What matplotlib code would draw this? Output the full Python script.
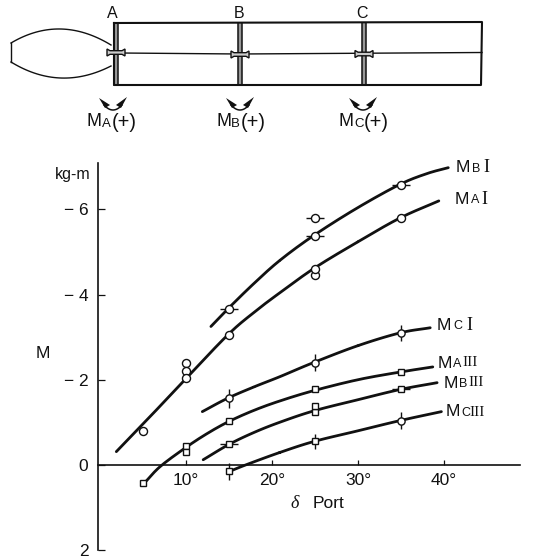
import matplotlib
matplotlib.use("Agg")
import matplotlib.pyplot as plt
import numpy as np

plt.rcParams['font.family'] = ['Liberation Sans', 'DejaVu Sans']
INK = '#111111'
W, H = 540, 559

# ---- curves (delta in degrees, M in kg-m) ----
mb1_x = [12.9, 14.9, 17.9, 20.9, 24.8, 29.8, 34.8, 38.0, 40.5]
mb1_y = [-3.25, -3.67, -4.26, -4.80, -5.38, -6.02, -6.58, -6.84, -6.98]
ma1_x = [1.9, 6.0, 10.0, 14.9, 17.9, 20.9, 25.0, 30.0, 34.9, 39.4]
ma1_y = [-0.31, -1.17, -2.03, -3.06, -3.58, -4.04, -4.63, -5.24, -5.80, -6.20]
mc1_x = [11.9, 14.8, 17.9, 20.9, 24.8, 30.0, 34.9, 38.4]
mc1_y = [-1.25, -1.56, -1.83, -2.07, -2.40, -2.80, -3.10, -3.22]
ma3_x = [5.2, 7.0, 10.0, 12.5, 15.0, 17.9, 20.9, 24.8, 30.0, 34.9, 38.7]
ma3_y = [0.42, 0.04, -0.41, -0.74, -1.02, -1.28, -1.50, -1.74, -2.00, -2.18, -2.30]
mb3_x = [12.0, 15.0, 17.9, 20.9, 24.9, 30.0, 34.9, 39.2]
mb3_y = [-0.12, -0.48, -0.76, -1.00, -1.27, -1.53, -1.77, -1.93]
mc3_x = [15.1, 17.1, 20.9, 24.9, 30.0, 34.9, 39.7]
mc3_y = [0.15, -0.01, -0.29, -0.55, -0.80, -1.04, -1.25]
curves = [(mb1_x, mb1_y), (ma1_x, ma1_y), (mc1_x, mc1_y),
          (ma3_x, ma3_y), (mb3_x, mb3_y), (mc3_x, mc3_y)]

# ---- measured points ----
circ_x = [5, 10, 10, 10, 15, 25, 25, 35]
circ_y = [-0.80, -2.40, -2.20, -2.03, -3.06, -4.45, -4.60, -5.80]
circ_h_x = [15, 25, 25, 35]
circ_h_y = [-3.67, -5.38, -5.80, -6.58]
circ_h_err = [1.0, 1.0, 1.0, 1.05]
circ_v_x = [15, 25, 35, 35]
circ_v_y = [-1.56, -2.40, -3.10, -1.04]
circ_v_err = [0.22, 0.2, 0.18, 0.19]
sq_x = [5, 10, 10, 15, 25, 35, 25, 25]
sq_y = [0.42, -0.45, -0.30, -1.02, -1.77, -2.18, -1.25, -1.38]
sq_h_x = [15, 35]
sq_h_y = [-0.48, -1.77]
sq_h_err = [1.05, 1.0]
sq_v_x = [15, 25]
sq_v_y = [0.15, -0.55]
sq_v_err = [0.2, 0.18]

xticks = [10, 20, 30, 40]
xtick_labels = ['10°', '20°', '30°', '40°']
yticks = [-6, -4, -2, 0, 2]
ytick_labels = ['− 6', '− 4', '− 2', '0', '2']


def smooth(xs, ys, n=16):
    """Draw a rounded line through the read points (Catmull-Rom segments)."""
    p = np.column_stack([xs, ys])
    p = np.vstack([2 * p[0] - p[1], p, 2 * p[-1] - p[-2]])
    out = []
    for i in range(1, len(p) - 2):
        t = np.linspace(0, 1, n)[:, None]
        a, b, c, d = p[i - 1], p[i], p[i + 1], p[i + 2]
        out.append(0.5 * (2 * b + (c - a) * t + (2 * a - 5 * b + 4 * c - d) * t ** 2
                          + (3 * b - a - 3 * c + d) * t ** 3))
    out = np.vstack(out)
    return out[:, 0], out[:, 1]


fig = plt.figure(figsize=(W / 100, H / 100), dpi=100, facecolor='white')
ax = fig.add_axes([98 / W, 1 - 550 / H, (520 - 98) / W, (550 - 163) / H])
ax.patch.set_alpha(0)
ax.set_xlim(-0.23, 48.84)
ax.set_ylim(2, -7.09)
for s in ('top', 'right'):
    ax.spines[s].set_visible(False)
ax.spines['bottom'].set_position(('data', 0))
ax.spines['left'].set_linewidth(1.2)
ax.spines['bottom'].set_linewidth(1.2)
ax.spines['left'].set_color(INK)
ax.spines['bottom'].set_color(INK)
ax.set_xticks(xticks, xtick_labels)
ax.set_yticks(yticks, ytick_labels)
ax.tick_params(axis='x', direction='in', length=3.5, width=0.9, pad=6, labelsize=12.5, colors=INK)
ax.tick_params(axis='y', direction='in', length=5, width=0.9, pad=7, labelsize=12.5, colors=INK)

for cx, cy in curves:
    sx, sy = smooth(cx, cy)
    ax.plot(sx, sy, color=INK, lw=2.0, solid_capstyle='round', solid_joinstyle='round', zorder=2)

mk = dict(mfc='white', mec=INK, mew=1.0, ecolor=INK, elinewidth=1.0, capsize=0, ls='none', zorder=3)
ax.errorbar(circ_x, circ_y, fmt='o', ms=5.8, **mk)
ax.errorbar(circ_h_x, circ_h_y, xerr=circ_h_err, fmt='o', ms=5.8, **mk)
ax.errorbar(circ_v_x, circ_v_y, yerr=circ_v_err, fmt='o', ms=5.2, **mk)
ax.errorbar(sq_x, sq_y, fmt='s', ms=4.8, **mk)
ax.errorbar(sq_h_x, sq_h_y, xerr=sq_h_err, fmt='s', ms=4.8, **mk)
ax.errorbar(sq_v_x, sq_v_y, yerr=sq_v_err, fmt='s', ms=4.8, **mk)

# overlay axes in image pixels for free text and the schematic
ov = fig.add_axes([0, 0, 1, 1])
ov.set_xlim(0, W)
ov.set_ylim(H, 0)
ov.axis('off')
ov.patch.set_alpha(0)


def T(x, y, s, size=12.5, **kw):
    kw.setdefault('va', 'center')
    kw.setdefault('ha', 'left')
    kw.setdefault('color', INK)
    ov.text(x, y, s, fontsize=size, **kw)


SERIF = ['Liberation Serif', 'DejaVu Serif']
T(55, 175, 'kg-m', size=11.5)
T(36, 353, 'M', size=12.5)
T(290, 503, 'δ', size=13, style='italic', family=SERIF)
T(313, 503, 'Port', size=12.5)

for x, y, sub, rom, xs, xr, rs in [
    (456, 168, 'B', 'I', 472, 483, 13),
    (455, 199, 'A', 'I', 471, 481, 13),
    (437, 325, 'C', 'I', 453, 466, 13),
    (438, 363, 'A', 'III', 453, 462, 11),
    (444, 383, 'B', 'III', 459, 468, 11),
    (446, 412, 'C', 'III', 461, 469, 11),
]:
    T(x, y, 'M', size=12.5)
    T(xs, y + 1, sub, size=9)
    T(xr, y, rom, size=rs, family=SERIF)

# ---- schematic ----
ov.plot([114, 482, 481, 114, 114], [23, 22, 85, 85, 23], color=INK, lw=1.5)
ov.plot([120, 240, 482], [53, 54, 52.5], color=INK, lw=1.0)
t = np.linspace(0, 1, 40)
for y0, ym, y1 in [(43, 14, 45), (62, 92, 66)]:
    xx = (1 - t) ** 2 * 11 + 2 * t * (1 - t) * 60 + t ** 2 * 111
    yy = (1 - t) ** 2 * y0 + 2 * t * (1 - t) * ym + t ** 2 * y1
    ov.plot(xx, yy, color=INK, lw=1.0)
ov.plot([11, 11], [43, 62], color=INK, lw=1.0)
for bx, by in [(114, 52.5), (238, 54.5), (362, 54)]:
    ov.fill_between([bx, bx + 3.5], 23, 85, color='#999999', lw=0, zorder=1)
    ov.plot([bx, bx], [23, 85], color=INK, lw=1.1)
    ov.plot([bx + 3.5, bx + 3.5], [23, 85], color=INK, lw=1.1)
    cx = bx + 2
    ov.fill([cx - 9, cx - 6, cx + 6, cx + 9, cx + 9, cx + 6, cx - 6, cx - 9],
            [by - 3.5, by - 1.8, by - 1.8, by - 3.5, by + 3.5, by + 1.8, by + 1.8, by + 3.5],
            facecolor='#cccccc', edgecolor=INK, lw=1.0, zorder=4)
for x, lbl in [(112, 'A'), (239, 'B'), (362, 'C')]:
    T(x, 13, lbl, size=11.5, ha='center')
for ax0, sub, mx in [(113, 'A', 87), (240, 'B', 216), (363, 'C', 339)]:
    s = np.linspace(-1, 1, 30)
    ov.plot(ax0 + 9 * s, 110 - 5 * s ** 2, color=INK, lw=1.1)
    ov.fill([ax0 - 14, ax0 - 3, ax0 - 8], [98, 105, 108], color=INK, lw=0)
    ov.fill([ax0 + 14, ax0 + 3, ax0 + 8], [97, 105, 108], color=INK, lw=0)
    T(mx, 122, 'M', size=13)
    T(mx + 15, 124, sub, size=9.5)
    T(mx + 25, 122, '(+)', size=14.5)

fig.savefig('out.png', dpi=100, facecolor='white')
